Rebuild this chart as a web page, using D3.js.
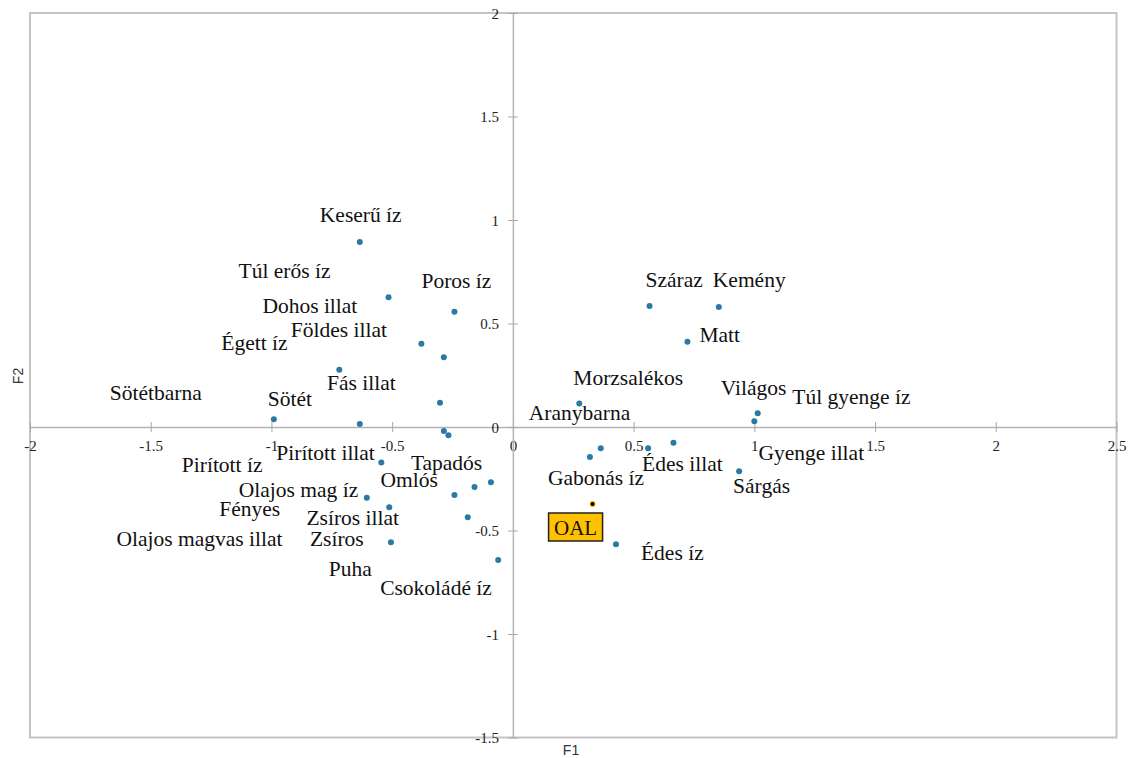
<!DOCTYPE html>
<html>
<head>
<meta charset="utf-8">
<script src="https://cdn.jsdelivr.net/npm/d3@7"></script>
<style>
  body { margin: 0; background: #fff; }
  svg { display: block; }
  .serif { font-family: "Liberation Serif", "Times New Roman", "DejaVu Serif", serif; }
  .sans { font-family: "Liberation Sans", Arial, sans-serif; }
</style>
</head>
<body>
<svg id="chart" width="1130" height="758"></svg>
<script>
// attribute names and their F1 / F2 coordinates
var labels = ["Keserű íz", "Túl erős íz", "Poros íz", "Dohos illat", "Földes illat", "Égett íz",
    "Fás illat", "Sötétbarna", "Sötét", "Pirított íz", "Olajos magvas illat", "Pirított illat",
    "Tapadós", "Omlós", "Olajos mag íz", "Fényes", "Zsíros illat", "Puha", "Zsíros", "Csokoládé íz",
    "Száraz", "Kemény", "Matt", "Morzsalékos", "Világos", "Túl gyenge íz", "Aranybarna",
    "Gabonás íz", "Édes illat", "Gyenge illat", "Sárgás", "Édes íz"];
var f1 = [-0.634, -0.515, -0.242, -0.379, -0.286, -0.719, -0.302, -0.990, -0.634, -0.286, -0.267, -0.545,
    -0.091, -0.159, -0.605, -0.512, -0.242, -0.187, -0.505, -0.061,
    0.566, 0.853, 0.723, 0.275, 1.014, 1.000, 0.364, 0.319, 0.560, 0.665, 0.937, 0.427];
var f2 = [0.894, 0.627, 0.557, 0.402, 0.337, 0.277, 0.117, 0.037, 0.014, -0.019, -0.040, -0.172,
    -0.267, -0.290, -0.342, -0.388, -0.329, -0.436, -0.557, -0.643,
    0.585, 0.580, 0.412, 0.113, 0.066, 0.028, -0.103, -0.145, -0.103, -0.076, -0.214, -0.567];

// the product
var productName = "OAL";
var productF1 = 0.330;
var productF2 = -0.372;

var xTicks = [-2, -1.5, -1, -0.5, 0, 0.5, 1, 1.5, 2, 2.5];
var yTicks = [-1.5, -1, -0.5, 0, 0.5, 1, 1.5, 2];

// where each label sits relative to its point (px, left edge / baseline)
var labelOffsets = [[-40, -20], [-150, -19], [-33, -24], [-159, -31], [-153, -20], [-118, -20],
    [-113, -13], [-164, -19], [-92, -18], [-262, 41], [-332, 111], [-105, -3],
    [-80, -12], [-94, 0], [-128, -1], [-170, 9], [-148, 30], [-139, 59], [-81, 4], [-118, 35],
    [-4, -19], [-6, -20], [12, 0], [-6, -19], [-37, -18], [38, -17], [-72, -28],
    [-42, 28], [-6, 23], [85, 17], [-6, 22], [25, 16]];

var svg = d3.select("#chart");

var x = d3.scaleLinear().domain([-2, 2.5]).range([30, 1116.5]);
var y = d3.scaleLinear().domain([-1.5, 2]).range([737.5, 13]);

// frame
svg.append("rect")
    .attr("x", x(-2))
    .attr("y", y(2))
    .attr("width", x(2.5) - x(-2))
    .attr("height", y(-1.5) - y(2))
    .style("fill", "none")
    .style("stroke", "#c4c4c4")
    .style("stroke-width", 2);

// x axis through origin
var xAxis = svg.append("g")
    .attr("transform", "translate(0," + y(0) + ")")
    .call(d3.axisBottom(x).tickValues(xTicks).tickFormat(function (d) { return d; }).tickSizeOuter(0));
xAxis.attr("font-family", null).attr("font-size", null);
xAxis.select(".domain").style("stroke", "#b4b4b4").style("stroke-width", 1.5);
xAxis.selectAll(".tick line").attr("y1", -5).attr("y2", 5).style("stroke", "#a8a8a8");
xAxis.selectAll(".tick text")
    .attr("class", "serif")
    .attr("y", 24).attr("dy", 0)
    .style("font-size", "15px").style("fill", "#222");

// y axis through origin
var yAxis = svg.append("g")
    .attr("transform", "translate(" + x(0) + ",0)")
    .call(d3.axisLeft(y).tickValues(yTicks).tickFormat(function (d) { return d; }).tickSizeOuter(0));
yAxis.attr("font-family", null).attr("font-size", null);
yAxis.select(".domain").style("stroke", "#b4b4b4").style("stroke-width", 1.5);
yAxis.selectAll(".tick line").attr("x1", -5).attr("x2", 5).style("stroke", "#a8a8a8");
yAxis.selectAll(".tick text")
    .attr("class", "serif")
    .attr("x", -14).attr("dy", "0.35em")
    .style("font-size", "15px").style("fill", "#222");

// axis titles
svg.append("text")
    .attr("class", "sans")
    .attr("x", 571).attr("y", 755)
    .attr("text-anchor", "middle")
    .style("font-size", "14px").style("fill", "#333")
    .text("F1");
svg.append("text")
    .attr("class", "sans")
    .attr("transform", "translate(23," + 376 + ") rotate(-90)")
    .attr("text-anchor", "middle")
    .style("font-size", "14px").style("fill", "#333")
    .text("F2");

// attribute points
for (var i = 0; i < labels.length; i++) {
    svg.append("circle")
        .attr("cx", x(f1[i]))
        .attr("cy", y(f2[i]))
        .attr("r", 3)
        .style("fill", "#2b7aa5");

    svg.append("text")
        .attr("class", "serif")
        .attr("x", x(f1[i]) + labelOffsets[i][0])
        .attr("y", y(f2[i]) + labelOffsets[i][1])
        .style("font-size", "21.5px")
        .style("fill", "#111")
        .text(labels[i]);
}

// product point with boxed label
svg.append("circle")
    .attr("cx", x(productF1))
    .attr("cy", y(productF2))
    .attr("r", 3)
    .style("fill", "#ffc000");
svg.append("circle")
    .attr("cx", x(productF1))
    .attr("cy", y(productF2))
    .attr("r", 2)
    .style("fill", "#000");

var box = svg.append("g")
    .attr("transform", "translate(" + (x(productF1) - 44) + "," + (y(productF2) + 9) + ")");
box.append("rect")
    .attr("width", 54).attr("height", 28)
    .style("fill", "#ffc000")
    .style("stroke", "#222")
    .style("stroke-width", 1.5);
box.append("text")
    .attr("class", "serif")
    .attr("x", 27).attr("y", 21.5)
    .attr("text-anchor", "middle")
    .style("font-size", "21px").style("fill", "#111")
    .text(productName);
</script>
</body>
</html>
